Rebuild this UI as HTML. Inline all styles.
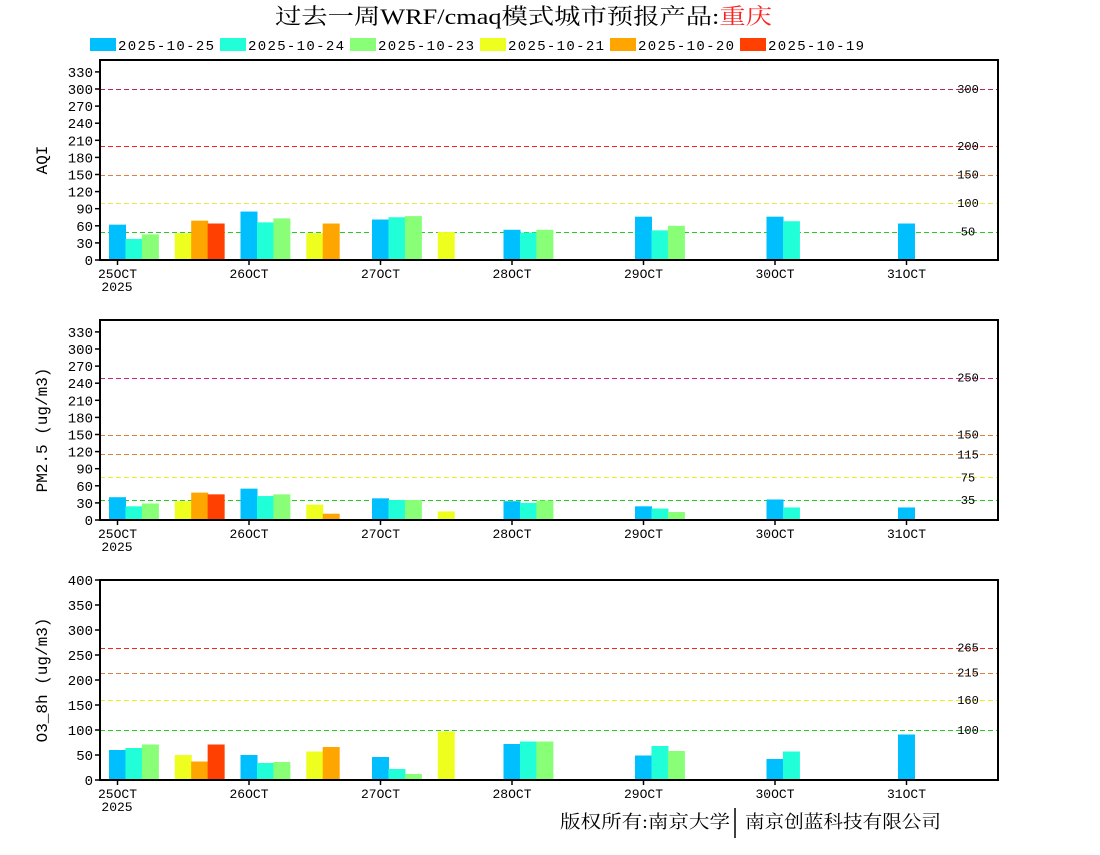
<!DOCTYPE html>
<html><head><meta charset="utf-8"><style>
body{margin:0;background:#fff;}
svg text{font-family:"Liberation Mono","DejaVu Sans Mono",monospace;}
.cjk{font-family:"Liberation Serif","Noto Serif CJK SC","Noto Sans CJK SC",serif;}
</style></head><body>
<svg id="s" width="1100" height="850" xmlns="http://www.w3.org/2000/svg">
<text x="275" y="24" class="cjk" font-size="22" fill="#000" textLength="497" lengthAdjust="spacingAndGlyphs">过去一周WRF/cmaq模式城市预报产品:<tspan fill="#ff2020">重庆</tspan></text>
<g font-size="14" fill="#000">
<rect x="90" y="38" width="26" height="13" fill="#00bfff"/><text x="118" y="50" textLength="96">2025-10-25</text>
<rect x="220" y="38" width="26" height="13" fill="#20ffd8"/><text x="248" y="50" textLength="96">2025-10-24</text>
<rect x="350" y="38" width="26" height="13" fill="#88ff77"/><text x="378" y="50" textLength="96">2025-10-23</text>
<rect x="480" y="38" width="26" height="13" fill="#eeff20"/><text x="508" y="50" textLength="96">2025-10-21</text>
<rect x="610" y="38" width="26" height="13" fill="#ffa500"/><text x="638" y="50" textLength="96">2025-10-20</text>
<rect x="740" y="38" width="26" height="13" fill="#ff4000"/><text x="768" y="50" textLength="96">2025-10-19</text>
</g>
<text transform="translate(47,160) rotate(-90)" text-anchor="middle" font-size="16">AQI</text>
<text transform="translate(47,430) rotate(-90)" text-anchor="middle" font-size="16">PM2.5 (ug/m3)</text>
<text transform="translate(47,680) rotate(-90)" text-anchor="middle" font-size="16">O3_8h (ug/m3)</text>
<text x="560" y="828" class="cjk" font-size="18" textLength="170" lengthAdjust="spacingAndGlyphs">版权所有:南京大学</text>
<line x1="735" y1="808" x2="735" y2="838" stroke="#000" stroke-width="1.5"/>
<text x="745" y="828" class="cjk" font-size="18" textLength="196" lengthAdjust="spacingAndGlyphs">南京创蓝科技有限公司</text>
<g id="g"></g>
</svg>
<script>
var g=document.getElementById('g'),NS='http://www.w3.org/2000/svg';
function el(t,a,txt){var e=document.createElementNS(NS,t);for(var k in a)e.setAttribute(k,a[k]);if(txt!==undefined)e.textContent=txt;g.appendChild(e);return e;}
var cols=['#00bfff','#20ffd8','#88ff77',null,'#eeff20','#ffa500','#ff4000'];
var panels=[
{top:60,bot:260,sc:0.57,ticks:[0,30,60,90,120,150,180,210,240,270,300,330],
 lines:[[300,'#c02060'],[200,'#ff2020'],[150,'#e08040'],[100,'#eeee40'],[50,'#20d020']],
 labs:[300,200,150,100,50],
 data:[[62,37,45,0,47,69,64],[85,66,73,0,47,64],[71,75,77,0,49],[53,48,53],[76,52,60],[76,68],[64]]},
{top:320,bot:520,sc:0.57,ticks:[0,30,60,90,120,150,180,210,240,270,300,330],
 lines:[[250,'#d02080'],[150,'#e08040'],[115,'#e08040'],[75,'#eeee20'],[35,'#20d020']],
 labs:[250,150,115,75,35],
 data:[[40,24,29,0,33,48,45],[55,42,45,0,27,11],[38,35,35,0,15],[33,30,34],[24,20,14],[36,22],[22]]},
{top:580,bot:780,sc:0.5,ticks:[0,50,100,150,200,250,300,350,400],
 lines:[[265,'#ff2020'],[215,'#e08040'],[160,'#eeee20'],[100,'#20d020']],
 labs:[265,215,160,100],
 data:[[60,64,71,0,50,37,71],[50,34,36,0,57,66],[46,22,12,0,97],[72,77,77],[49,68,58],[42,57],[91]]}];
panels.forEach(function(p){
 var y=function(v){return p.bot-v*p.sc;};
 p.lines.forEach(function(l){var yy=Math.round(y(l[0]))+0.5;el('line',{x1:100,x2:998,y1:yy,y2:yy,stroke:l[1],'stroke-width':1.3,'stroke-dasharray':'5,3','shape-rendering':'crispEdges'});});
 p.labs.forEach(function(v){el('text',{x:968,y:y(v)+4,'font-size':12,'text-anchor':'middle'},String(v));});
 p.data.forEach(function(d,i){d.forEach(function(v,k){if(!v||!cols[k])return;var cx=117.5+131.5*i+16.44*k;
  el('rect',{x:cx-8.5,y:y(v),width:17,height:v*p.sc,fill:cols[k]});});});
 el('rect',{x:100,y:p.top,width:898,height:p.bot-p.top,fill:'none',stroke:'#000','stroke-width':2});
 p.ticks.forEach(function(v){el('line',{x1:95,x2:100,y1:y(v),y2:y(v),stroke:'#000','stroke-width':1.5});
  el('text',{x:93,y:y(v)+5,'font-size':14,'text-anchor':'end'},String(v));});
 for(var i=0;i<7;i++){var x=117.5+131.5*i;el('line',{x1:x,x2:x,y1:p.bot,y2:p.bot+5,stroke:'#000','stroke-width':1.5});
  el('text',{x:x,y:p.bot+18,'font-size':13,'text-anchor':'middle'},(25+i)+'OCT');}
 el('text',{x:117,y:p.bot+31,'font-size':13,'text-anchor':'middle'},'2025');
});
</script>
</body></html>
